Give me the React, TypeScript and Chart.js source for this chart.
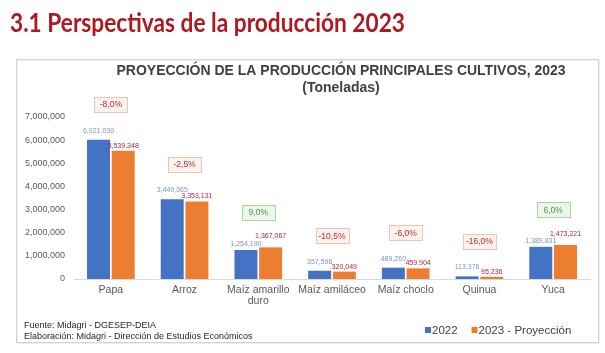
import React, { useEffect, useRef } from 'react';
import { Chart, registerables } from 'chart.js';

Chart.register(...registerables);

const categories: (string | string[])[] = [
  'Papa',
  'Arroz',
  ['Maíz amarillo', 'duro'],
  'Maíz amiláceo',
  'Maíz choclo',
  'Quinua',
  'Yuca',
];
const values2022 = [6021030, 3449365, 1254190, 357596, 489260, 113376, 1389831];
const values2023 = [5539348, 3353131, 1367067, 320049, 459904, 95236, 1473221];
const changeLabels = ['-8,0%', '-2,5%', '9,0%', '-10,5%', '-6,0%', '-16,0%', '6,0%'];
const seriesNames = ['2022', '2023 - Proyección'];
const yMax = 7000000;
const yStep = 1000000;

const pageTitle = '3.1 Perspectivas de la producción 2023';
const chartTitle = ['PROYECCIÓN DE LA PRODUCCIÓN PRINCIPALES CULTIVOS, 2023', '(Toneladas)'];
const footer = ['Fuente: Midagri - DGESEP-DEIA', 'Elaboración: Midagri - Dirección de Estudios Económicos'];

const BLUE = '#4472c4';
const ORANGE = '#ed7d31';
const FONT = '"Liberation Sans", Arial, sans-serif';

const fmt = (v: number) => v.toLocaleString('en-US');

const overlay = {
  id: 'overlay',
  beforeDraw(chart: any) {
    const ctx = chart.ctx as CanvasRenderingContext2D;
    ctx.save();
    ctx.fillStyle = '#ffffff';
    ctx.fillRect(0, 0, chart.width, chart.height);
    // frame
    ctx.lineWidth = 1;
    ctx.strokeStyle = '#eeeeee';
    ctx.strokeRect(17.5, 60.5, 582, 283);
    ctx.strokeStyle = '#d3d3d3';
    ctx.strokeRect(16.5, 59.5, 582, 283);
    // page title
    ctx.font = '700 27px Lato, "Open Sans", sans-serif';
    const w = ctx.measureText(pageTitle).width;
    ctx.fillStyle = '#ad1a20';
    ctx.textBaseline = 'alphabetic';
    ctx.textAlign = 'left';
    ctx.translate(10, 32);
    ctx.scale(395 / w, 1);
    ctx.fillText(pageTitle, 0, 0);
    ctx.restore();

    ctx.save();
    // chart title
    ctx.font = 'bold 14px ' + FONT;
    ctx.fillStyle = '#404040';
    ctx.textAlign = 'center';
    ctx.textBaseline = 'middle';
    ctx.fillText(chartTitle[0], 341, 71.5);
    ctx.fillText(chartTitle[1], 341, 88.5);
    // footer
    ctx.font = '9px ' + FONT;
    ctx.fillStyle = '#262626';
    ctx.textAlign = 'left';
    ctx.fillText(footer[0], 24, 326);
    ctx.fillText(footer[1], 24, 337);
    // legend
    ctx.font = '11.5px ' + FONT;
    let x = 425;
    chart.data.datasets.forEach((ds: any) => {
      ctx.fillStyle = ds.backgroundColor;
      ctx.fillRect(x, 327, 6, 6);
      ctx.fillStyle = '#404040';
      ctx.fillText(ds.label, x + 7, 330.5);
      x += 7 + ctx.measureText(ds.label).width + 14;
    });
    ctx.restore();
  },
  afterDatasetsDraw(chart: any) {
    const ctx = chart.ctx as CanvasRenderingContext2D;
    ctx.save();
    const m0 = chart.getDatasetMeta(0);
    const m1 = chart.getDatasetMeta(1);
    const labelColors = ['#7a96c6', '#b4233c'];
    const d0 = chart.data.datasets[0].data;
    const d1 = chart.data.datasets[1].data;
    ctx.font = '7px ' + FONT;
    ctx.textAlign = 'center';
    ctx.textBaseline = 'middle';
    m0.data.forEach((b0: any, i: number) => {
      const b1 = m1.data[i];
      const blueTaller = d0[i] >= d1[i];
      ctx.fillStyle = labelColors[0];
      ctx.fillText(fmt(d0[i]), b0.x, b0.y - (blueTaller ? 9 : 6));
      ctx.fillStyle = labelColors[1];
      ctx.fillText(fmt(d1[i]), b1.x, b1.y - (blueTaller ? 5 : 11));
    });
    // change boxes
    ctx.font = '8.5px ' + FONT;
    ctx.textBaseline = 'middle';
    changeLabels.forEach((lab, i) => {
      const b0 = m0.data[i];
      const b1 = m1.data[i];
      const cx = (b0.x + b1.x) / 2;
      const cy = Math.min(b0.y, b1.y) - 35;
      const neg = lab.startsWith('-');
      const bw = 33;
      const bh = 15;
      const lx = Math.round(cx - bw / 2) + 0.5;
      const ly = Math.round(cy - bh / 2) + 0.5;
      ctx.fillStyle = neg ? '#fdf2ed' : '#eef6eb';
      ctx.fillRect(lx, ly, bw, bh);
      ctx.strokeStyle = neg ? '#f0c3b3' : '#a8d59f';
      ctx.lineWidth = 1;
      ctx.strokeRect(lx, ly, bw, bh);
      ctx.fillStyle = neg ? '#b8283a' : '#3b9b48';
      ctx.fillText(lab, cx, cy + 0.5);
    });
    ctx.restore();
  },
};

export default function App() {
  const ref = useRef<HTMLCanvasElement>(null);
  useEffect(() => {
    document.body.style.margin = '0';
    const chart = new Chart(ref.current as HTMLCanvasElement, {
      type: 'bar',
      data: {
        labels: categories as any,
        datasets: [
          { label: seriesNames[0], data: values2022, backgroundColor: BLUE, categoryPercentage: 0.67, barPercentage: 0.93 },
          { label: seriesNames[1], data: values2023, backgroundColor: ORANGE, categoryPercentage: 0.67, barPercentage: 0.93 },
        ],
      },
      options: {
        responsive: false,
        animation: false,
        layout: { padding: { top: 117, left: 17, right: 15, bottom: 10 } },
        plugins: {
          legend: { display: false },
          title: { display: false },
          tooltip: { enabled: false },
        },
        scales: {
          x: {
            grid: { display: false, drawTicks: false },
            border: { display: true, color: '#d9d9d9', width: 1 },
            ticks: {
              color: '#595959',
              font: { family: FONT, size: 10.5, lineHeight: 1.05 },
              padding: 6,
              maxRotation: 0,
              autoSkip: false,
            },
            afterFit: (s: any) => { s.height = 64; },
          },
          y: {
            min: 0,
            max: yMax,
            grid: { display: false, drawTicks: false },
            border: { display: false },
            ticks: {
              stepSize: yStep,
              color: '#595959',
              font: { family: FONT, size: 9 },
              padding: 9,
              callback: (v: any) => fmt(Number(v)),
            },
            afterFit: (s: any) => { s.width = 57; },
          },
        },
      },
      plugins: [overlay],
    });
    return () => chart.destroy();
  }, []);
  return <canvas ref={ref} width={605} height={353} style={{ display: 'block' }} />;
}
